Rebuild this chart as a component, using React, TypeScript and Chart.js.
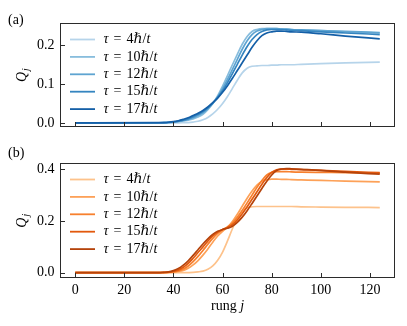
import React, { useEffect, useRef } from 'react';
import { Chart, registerables } from 'chart.js';

Chart.register(...registerables);

// ---------- data ----------
const RUNG = [0, 34, 36, 38, 40, 42, 44, 46, 48, 50, 52, 54, 56, 58, 60, 62, 64, 66, 68, 70, 72, 74, 76, 78, 80, 82, 84, 86, 88, 92, 100, 110, 124];
const TAU_LABELS = ['4', '10', '12', '15', '17'];

// panel (a)
const QA_TAU4 = [0, 0, 0, 0, 0, 0, 0.0003, 0.0008, 0.002, 0.004, 0.008, 0.014, 0.023, 0.035, 0.05, 0.068, 0.089, 0.11, 0.129, 0.141, 0.146, 0.147, 0.148, 0.148, 0.149, 0.149, 0.15, 0.15, 0.15, 0.151, 0.153, 0.155, 0.157];
const QA_TAU10 = [0, 0, 0.0003, 0.0007, 0.0015, 0.003, 0.005, 0.007, 0.01, 0.015, 0.022, 0.034, 0.05, 0.07, 0.095, 0.122, 0.15, 0.177, 0.203, 0.223, 0.236, 0.241, 0.243, 0.243, 0.243, 0.243, 0.242, 0.242, 0.241, 0.24, 0.238, 0.235, 0.232];
const QA_TAU12 = [0, 0.0001, 0.0004, 0.001, 0.002, 0.0035, 0.006, 0.009, 0.013, 0.019, 0.026, 0.037, 0.05, 0.067, 0.088, 0.112, 0.138, 0.164, 0.19, 0.212, 0.228, 0.237, 0.241, 0.243, 0.243, 0.243, 0.242, 0.242, 0.241, 0.24, 0.238, 0.236, 0.233];
const QA_TAU15 = [0, 0.0002, 0.0005, 0.0012, 0.0025, 0.0045, 0.007, 0.011, 0.016, 0.022, 0.029, 0.039, 0.051, 0.066, 0.083, 0.104, 0.127, 0.151, 0.175, 0.197, 0.215, 0.228, 0.236, 0.24, 0.241, 0.241, 0.241, 0.24, 0.239, 0.238, 0.235, 0.232, 0.228];
const QA_TAU17 = [0, 0.0003, 0.0007, 0.0015, 0.003, 0.0055, 0.009, 0.013, 0.019, 0.025, 0.032, 0.041, 0.052, 0.064, 0.079, 0.096, 0.115, 0.135, 0.155, 0.175, 0.195, 0.212, 0.225, 0.232, 0.235, 0.237, 0.237, 0.236, 0.235, 0.234, 0.23, 0.224, 0.217];

// panel (b)
const QB_TAU4 = [0, 0, 0, 0, 0, 0, 0, 0.0003, 0.001, 0.003, 0.006, 0.013, 0.026, 0.048, 0.08, 0.123, 0.17, 0.21, 0.238, 0.251, 0.255, 0.256, 0.256, 0.256, 0.256, 0.256, 0.256, 0.256, 0.256, 0.255, 0.254, 0.253, 0.252];
const QB_TAU10 = [0, 0, 0.0003, 0.001, 0.002, 0.005, 0.009, 0.017, 0.03, 0.047, 0.068, 0.092, 0.118, 0.142, 0.16, 0.176, 0.198, 0.226, 0.257, 0.288, 0.316, 0.339, 0.354, 0.36, 0.362, 0.362, 0.361, 0.361, 0.36, 0.359, 0.357, 0.354, 0.351];
const QB_TAU12 = [0, 0.0002, 0.0006, 0.0015, 0.003, 0.007, 0.014, 0.026, 0.043, 0.063, 0.086, 0.11, 0.133, 0.152, 0.166, 0.177, 0.192, 0.214, 0.241, 0.27, 0.3, 0.33, 0.357, 0.378, 0.388, 0.391, 0.391, 0.391, 0.39, 0.389, 0.388, 0.387, 0.385];
const QB_TAU15 = [0, 0.0003, 0.001, 0.002, 0.005, 0.011, 0.021, 0.036, 0.056, 0.078, 0.1, 0.122, 0.142, 0.157, 0.167, 0.175, 0.186, 0.204, 0.228, 0.255, 0.284, 0.313, 0.342, 0.368, 0.388, 0.398, 0.401, 0.401, 0.4, 0.399, 0.396, 0.392, 0.387];
const QB_TAU17 = [0, 0.0005, 0.0015, 0.003, 0.008, 0.016, 0.029, 0.046, 0.067, 0.089, 0.111, 0.131, 0.148, 0.16, 0.167, 0.172, 0.18, 0.195, 0.215, 0.24, 0.268, 0.297, 0.326, 0.354, 0.378, 0.395, 0.401, 0.403, 0.402, 0.4, 0.396, 0.389, 0.381];

const X_TICKS = [0, 20, 40, 60, 80, 100, 120];
const YA_TICKS = [0, 0.1, 0.2];
const YB_TICKS = [0, 0.2, 0.4];

const BLUES = ['#b6d4ea', '#88bddd', '#5ea4d1', '#3585c0', '#145fa7'];
const ORANGES = ['#fdc28b', '#fda158', '#f7802e', '#e2590d', '#b5430b'];

// ---------- layout ----------
const FONT = '"Liberation Serif", "DejaVu Serif", serif';
const FS = 14;
const W = 407;
const TOP_H = 141;
const BOT_H = 185;

type PanelCfg = {
  series: number[][];
  colors: string[];
  yMin: number;
  yMax: number;
  yTicks: number[];
  padTop: number;
  xAxisH: number;
  height: number;
  showX: boolean;
  label: string;
  labelY: number;
};

function drawTau(ctx: CanvasRenderingContext2D, x: number, y: number, num: string) {
  const it = `italic ${FS}px ${FONT}`;
  const rm = `${FS}px ${FONT}`;
  ctx.textBaseline = 'middle';
  ctx.textAlign = 'left';
  let cx = x;
  const put = (s: string, font: string) => {
    ctx.font = font;
    ctx.fillText(s, cx, y);
    cx += ctx.measureText(s).width;
  };
  put('τ', it);
  cx += FS * 0.36;
  put('=', rm);
  cx += FS * 0.36;
  put(num, rm);
  put('ℏ', it);
  put('/', rm);
  put('t', it);
}

function makePlugin(cfg: PanelCfg) {
  return {
    id: 'panelDecor',
    afterDraw(chart: any) {
      const ctx: CanvasRenderingContext2D = chart.ctx;
      const { left, right, top, bottom } = chart.chartArea;
      const xs = chart.scales.x;
      const ys = chart.scales.y;
      ctx.save();
      // frame
      ctx.strokeStyle = '#2b2b2b';
      ctx.lineWidth = 1;
      const L = Math.round(left) + 0.5;
      const R = Math.round(right) - 0.5;
      const T = Math.round(top) + 0.5;
      const B = Math.round(bottom) - 0.5;
      ctx.strokeRect(L, T, R - L, B - T);
      // inward ticks
      ctx.beginPath();
      for (const v of X_TICKS) {
        const px = Math.round(xs.getPixelForValue(v)) + 0.5;
        ctx.moveTo(px, B);
        ctx.lineTo(px, B - 4.5);
      }
      for (const v of cfg.yTicks) {
        const py = Math.round(ys.getPixelForValue(v)) + 0.5;
        ctx.moveTo(L, py);
        ctx.lineTo(L + 4.5, py);
      }
      ctx.stroke();
      // legend
      for (let i = 0; i < TAU_LABELS.length; i++) {
        const ry = top + 16.2 + i * 17.4;
        ctx.strokeStyle = cfg.colors[i];
        ctx.lineWidth = 1.8;
        ctx.beginPath();
        ctx.moveTo(left + 10, ry);
        ctx.lineTo(left + 35, ry);
        ctx.stroke();
        ctx.fillStyle = '#000';
        drawTau(ctx, left + 43.5, ry, TAU_LABELS[i]);
      }
      // y label Q_j
      ctx.fillStyle = '#000';
      ctx.save();
      ctx.translate(22, (top + bottom) / 2);
      ctx.rotate(-Math.PI / 2);
      ctx.textBaseline = 'alphabetic';
      ctx.textAlign = 'left';
      ctx.font = `italic ${FS}px ${FONT}`;
      const qw = ctx.measureText('Q').width;
      ctx.font = `italic ${FS * 0.7}px ${FONT}`;
      const jw = ctx.measureText('j').width;
      const start = -(qw + jw + 1) / 2;
      ctx.font = `italic ${FS}px ${FONT}`;
      ctx.fillText('Q', start, 4);
      ctx.font = `italic ${FS * 0.7}px ${FONT}`;
      ctx.fillText('j', start + qw + 1, 7);
      ctx.restore();
      // panel label
      ctx.font = `${FS}px ${FONT}`;
      ctx.textAlign = 'left';
      ctx.textBaseline = 'middle';
      ctx.fillText(cfg.label, 8, cfg.labelY);
      // x title
      if (cfg.showX) {
        ctx.font = `${FS}px ${FONT}`;
        const t1 = 'rung ';
        const w1 = ctx.measureText(t1).width;
        ctx.font = `italic ${FS}px ${FONT}`;
        const w2 = ctx.measureText('j').width;
        const cx = (left + right) / 2 - (w1 + w2) / 2;
        const ty = bottom + 28.5;
        ctx.textBaseline = 'middle';
        ctx.font = `${FS}px ${FONT}`;
        ctx.fillText(t1, cx, ty);
        ctx.font = `italic ${FS}px ${FONT}`;
        ctx.fillText('j', cx + w1, ty);
      }
      ctx.restore();
    },
  };
}

function buildChart(canvas: HTMLCanvasElement, cfg: PanelCfg) {
  const datasets = cfg.series.map((vals, i) => ({
    label: `tau=${TAU_LABELS[i]}`,
    data: RUNG.map((x, k) => ({ x, y: vals[k] })),
    borderColor: cfg.colors[i],
    backgroundColor: cfg.colors[i],
    borderWidth: 1.7,
    pointRadius: 0,
    cubicInterpolationMode: 'monotone' as const,
    fill: false,
    order: cfg.series.length - i,
  }));
  return new Chart(canvas, {
    type: 'line',
    data: { datasets },
    plugins: [makePlugin(cfg)],
    options: {
      animation: false,
      responsive: false,
      devicePixelRatio: 1,
      events: [],
      layout: { padding: { left: 0, right: 12, top: cfg.padTop, bottom: 0 } },
      plugins: { legend: { display: false }, tooltip: { enabled: false } },
      scales: {
        x: {
          type: 'linear',
          min: -6.2,
          max: 130.2,
          grid: { display: false, drawTicks: false },
          border: { display: false },
          afterBuildTicks: (s: any) => {
            s.ticks = X_TICKS.map((v) => ({ value: v }));
          },
          afterFit: (s: any) => {
            s.height = cfg.xAxisH;
          },
          ticks: {
            display: cfg.showX,
            maxRotation: 0,
            autoSkip: false,
            padding: 3.5,
            color: '#000',
            font: { family: FONT, size: FS },
            callback: (v: any) => String(v),
          },
        },
        y: {
          type: 'linear',
          min: cfg.yMin,
          max: cfg.yMax,
          grid: { display: false, drawTicks: false },
          border: { display: false },
          afterBuildTicks: (s: any) => {
            s.ticks = cfg.yTicks.map((v) => ({ value: v }));
          },
          afterFit: (s: any) => {
            s.width = 60;
          },
          ticks: {
            autoSkip: false,
            padding: 5.5,
            color: '#000',
            font: { family: FONT, size: FS },
            callback: (v: any) => Number(v).toFixed(1),
          },
        },
      },
    },
  });
}

export default function App() {
  const refA = useRef<HTMLCanvasElement>(null);
  const refB = useRef<HTMLCanvasElement>(null);

  useEffect(() => {
    const a = buildChart(refA.current!, {
      series: [QA_TAU4, QA_TAU10, QA_TAU12, QA_TAU15, QA_TAU17],
      colors: BLUES,
      yMin: -0.011,
      yMax: 0.257,
      yTicks: YA_TICKS,
      padTop: 23.3,
      xAxisH: TOP_H - 138,
      height: TOP_H,
      showX: false,
      label: '(a)',
      labelY: 20,
    });
    const b = buildChart(refB.current!, {
      series: [QB_TAU4, QB_TAU10, QB_TAU12, QB_TAU15, QB_TAU17],
      colors: ORANGES,
      yMin: -0.0217,
      yMax: 0.4232,
      yTicks: YB_TICKS,
      padTop: 163.3 - TOP_H,
      xAxisH: BOT_H - (278.3 - TOP_H),
      height: BOT_H,
      showX: true,
      label: '(b)',
      labelY: 153 - TOP_H,
    });
    return () => {
      a.destroy();
      b.destroy();
    };
  }, []);

  return (
    <div style={{ position: 'absolute', left: 0, top: 0, width: W, height: TOP_H + BOT_H, background: '#fff' }}>
      <canvas ref={refA} width={W} height={TOP_H} style={{ position: 'absolute', left: 0, top: 0, width: W, height: TOP_H }} />
      <canvas ref={refB} width={W} height={BOT_H} style={{ position: 'absolute', left: 0, top: TOP_H, width: W, height: BOT_H }} />
    </div>
  );
}
